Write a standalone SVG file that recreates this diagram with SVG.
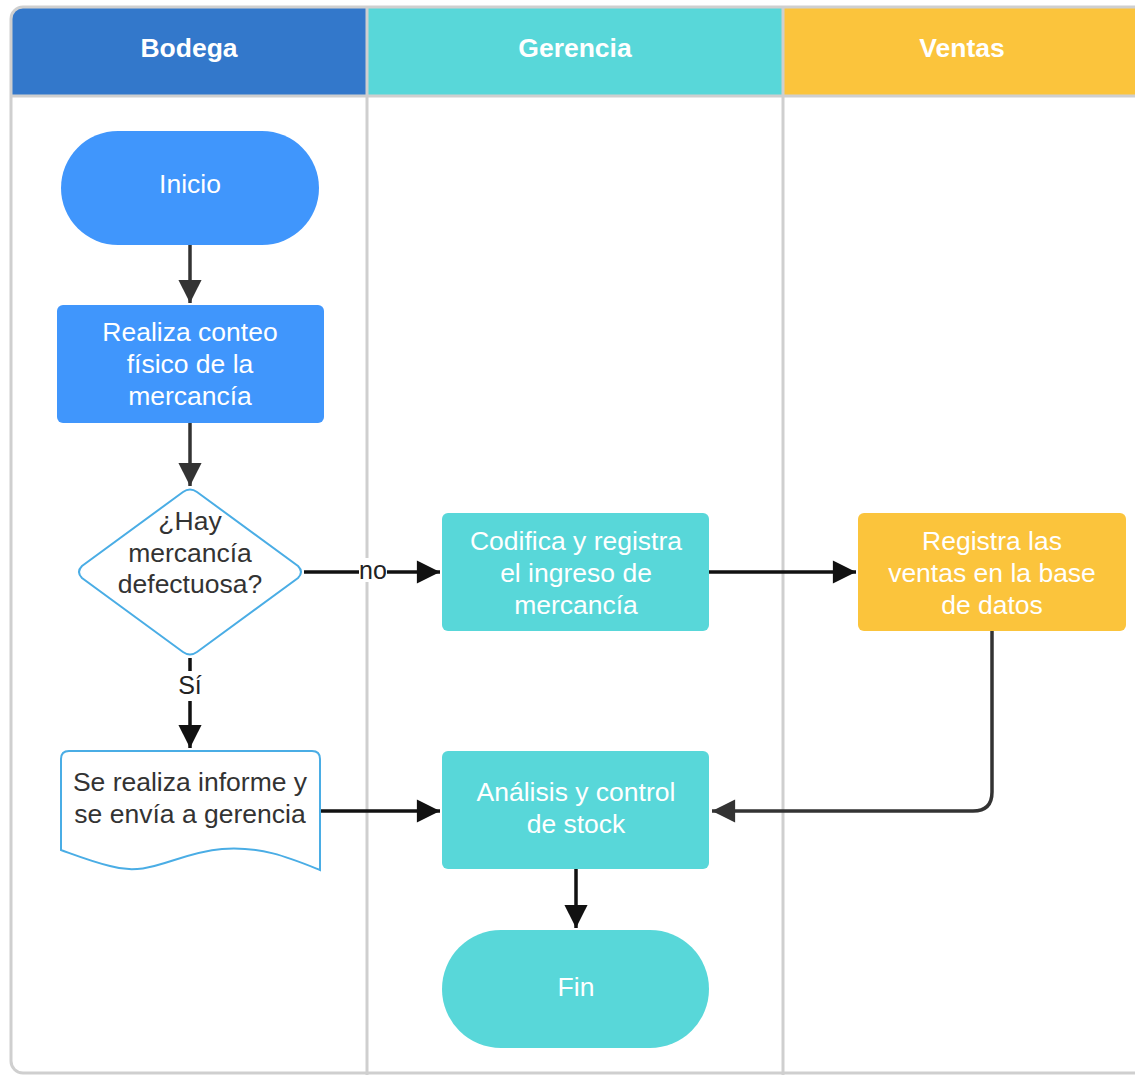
<svg xmlns="http://www.w3.org/2000/svg" width="1135" height="1075" viewBox="0 0 1135 1075">
<style>
.hd{font-family:"Liberation Sans",Arial,sans-serif;font-weight:bold;font-size:26.5px;fill:#fff;text-anchor:middle}
.wt{font-family:"Liberation Sans",Arial,sans-serif;font-size:26.5px;fill:#fff;text-anchor:middle}
.dk{font-family:"Liberation Sans",Arial,sans-serif;font-size:26.5px;fill:#333;text-anchor:middle}
.lbl{font-family:"Liberation Sans",Arial,sans-serif;font-size:25px;fill:#222;text-anchor:middle}
.ln{fill:none;stroke-width:3.5}
.frame{fill:none;stroke:#cfcfcf;stroke-width:3}
</style>
<defs>
<clipPath id="fc"><rect x="11" y="7" width="1140" height="1070" rx="12"/></clipPath>
<marker id="ahd" viewBox="0 0 10 10" refX="10" refY="5" markerWidth="8.4" markerHeight="6.6" markerUnits="strokeWidth" orient="auto">
<path d="M0,0 L10,5 L0,10 Z" fill="#333"/>
</marker>
<marker id="ahb" viewBox="0 0 10 10" refX="10" refY="5" markerWidth="8.4" markerHeight="6.6" markerUnits="strokeWidth" orient="auto">
<path d="M0,0 L10,5 L0,10 Z" fill="#111"/>
</marker>
</defs>
<rect width="1135" height="1075" fill="#fff"/>
<g id="lanes" clip-path="url(#fc)">
<rect x="11" y="7" width="356" height="89" fill="#3378CB"/>
<rect x="367" y="7" width="416" height="89" fill="#58D7D9"/>
<rect x="783" y="7" width="370" height="89" fill="#FBC43C"/>
<line x1="11" y1="96" x2="1151" y2="96" stroke="#cfcfcf" stroke-width="3"/>
<line x1="367" y1="7" x2="367" y2="1080" stroke="#cfcfcf" stroke-width="3"/>
<line x1="783" y1="7" x2="783" y2="1080" stroke="#cfcfcf" stroke-width="3"/>
</g>
<rect class="frame" x="11" y="7" width="1140" height="1066" rx="12"/>
<text class="hd" x="189" y="57">Bodega</text>
<text class="hd" x="575" y="57">Gerencia</text>
<text class="hd" x="962" y="57">Ventas</text>

<g id="connectors">
<line class="ln" x1="190" y1="245" x2="190" y2="303" stroke="#333" marker-end="url(#ahd)"/>
<line class="ln" x1="190" y1="423" x2="190" y2="486" stroke="#333" marker-end="url(#ahd)"/>
<line class="ln" x1="304" y1="572" x2="440" y2="572" stroke="#111" marker-end="url(#ahb)"/>
<rect x="359" y="558" width="28" height="24" fill="#fff"/>
<text class="lbl" x="373" y="579">no</text>
<line class="ln" x1="709" y1="572" x2="856" y2="572" stroke="#111" marker-end="url(#ahb)"/>
<path class="ln" d="M992,631 V792 Q992,811 973,811 H712" stroke="#333" marker-end="url(#ahd)"/>
<line class="ln" x1="190" y1="658" x2="190" y2="748" stroke="#111" marker-end="url(#ahb)"/>
<rect x="176" y="671" width="28" height="30" fill="#fff"/>
<text class="lbl" x="190" y="694">Sí</text>
<line class="ln" x1="320" y1="811" x2="440" y2="811" stroke="#111" marker-end="url(#ahb)"/>
<line class="ln" x1="576" y1="869" x2="576" y2="928" stroke="#111" marker-end="url(#ahb)"/>
</g>

<g id="inicio">
<rect x="61" y="131" width="258" height="114" rx="57" fill="#4096FC"/>
<text class="wt" x="190" y="193">Inicio</text>
</g>
<g id="conteo">
<rect x="57" y="305" width="267" height="118" rx="6" fill="#4096FC"/>
<text class="wt" x="190" y="341">Realiza conteo</text>
<text class="wt" x="190" y="373">físico de la</text>
<text class="wt" x="190" y="405">mercancía</text>
</g>
<g id="decision">
<path d="M183,492 Q190,487 197,492 L298,566 Q304,572 298,578 L197,652 Q190,657 183,652 L82,578 Q76,572 82,566 Z" fill="#fff" stroke="#4AADE5" stroke-width="2"/>
<text class="dk" x="190" y="530">¿Hay</text>
<text class="dk" x="190" y="562">mercancía</text>
<text class="dk" x="190" y="593">defectuosa?</text>
</g>
<g id="informe">
<path d="M61,759 Q61,751 69,751 H312 Q320,751 320,759 V870 C290,858 262,846 222,849 C175,853 150,878 110,866 C90,861 75,855 61,850 Z" fill="#fff" stroke="#4AADE5" stroke-width="2"/>
<text class="dk" x="190" y="791">Se realiza informe y</text>
<text class="dk" x="190" y="823">se envía a gerencia</text>
</g>
<g id="codifica">
<rect x="442" y="513" width="267" height="118" rx="6" fill="#58D7D9"/>
<text class="wt" x="576" y="550">Codifica y registra</text>
<text class="wt" x="576" y="582">el ingreso de</text>
<text class="wt" x="576" y="614">mercancía</text>
</g>
<g id="registra">
<rect x="858" y="513" width="268" height="118" rx="6" fill="#FBC43C"/>
<text class="wt" x="992" y="550">Registra las</text>
<text class="wt" x="992" y="582">ventas en la base</text>
<text class="wt" x="992" y="614">de datos</text>
</g>
<g id="analisis">
<rect x="442" y="751" width="267" height="118" rx="6" fill="#58D7D9"/>
<text class="wt" x="576" y="801">Análisis y control</text>
<text class="wt" x="576" y="833">de stock</text>
</g>
<g id="fin">
<rect x="442" y="930" width="267" height="118" rx="59" fill="#58D7D9"/>
<text class="wt" x="576" y="996">Fin</text>
</g>
</svg>
